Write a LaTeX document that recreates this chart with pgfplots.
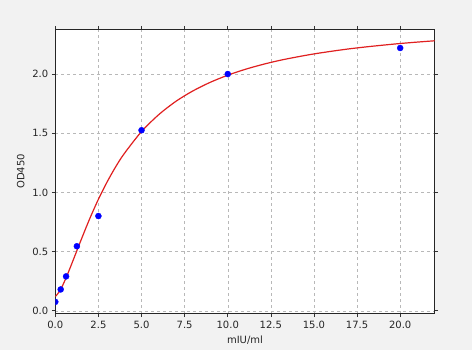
\documentclass[border=0pt]{standalone}
\usepackage{pgfplots}
\pgfplotsset{compat=1.18}
\usepackage{fontspec}
\setmainfont{DejaVu Sans}
\definecolor{bgc}{HTML}{F2F2F2}
\definecolor{gridc}{HTML}{B8B8B8}
\definecolor{mplred}{HTML}{E02020}
\begin{document}
\begin{tikzpicture}[x=1pt,y=1pt]
\fill[bgc] (0,0) rectangle (472,350);
\begin{axis}[
  at={(55.3pt,36.3pt)}, anchor=south west,
  scale only axis, width=379.4pt, height=284.4pt,
  xmin=0, xmax=22, ymin=-0.025, ymax=2.378,
  xtick={0,2.5,...,20}, ytick={0,0.5,...,2.0},
  tick align=outside, major tick length=3.5pt,
  tick style={black!80, line width=0.6pt},
  axis line style={black!85, line width=0.7pt},
  axis background/.style={fill=white},
  grid=major, major grid style={gridc, dashed, line width=0.45pt},
  xticklabel style={/pgf/number format/.cd, fixed, fixed zerofill, precision=1, assume math mode=true},
  yticklabel style={/pgf/number format/.cd, fixed, fixed zerofill, precision=1, assume math mode=true},
  ticklabel style={font=\fontsize{10}{12}\selectfont, text=black!85},
  label style={font=\fontsize{10}{12}\selectfont, text=black!85},
  xlabel={mIU/ml}, ylabel={OD450},
  xlabel style={yshift=-1pt}, ylabel style={yshift=1pt},
  clip=true,
]
\addplot[mplred, line width=1.2pt, smooth, tension=0.5] coordinates {
(0,0.120) (0.25,0.164) (0.5,0.237) (0.75,0.322) (1,0.414) (1.25,0.507) (1.5,0.600)
(2,0.779) (2.5,0.942) (3,1.087) (3.5,1.216) (4,1.328) (5,1.514) (6,1.657) (7,1.770)
(8,1.859) (9,1.931) (10,1.990) (11,2.039) (12,2.080) (13,2.115) (14,2.144) (15,2.170)
(16,2.192) (17,2.212) (18,2.229) (19,2.244) (20,2.258) (21,2.270) (22,2.281)
};
\addplot[only marks, mark=*, mark size=3pt, mark options={fill=blue, draw=blue}, clip mode=individual] coordinates {
(0,0.075) (0.3125,0.18) (0.625,0.29) (1.25,0.545) (2.5,0.80) (5,1.525) (10,2.0) (20,2.22)
};
\end{axis}
\end{tikzpicture}
\end{document}
